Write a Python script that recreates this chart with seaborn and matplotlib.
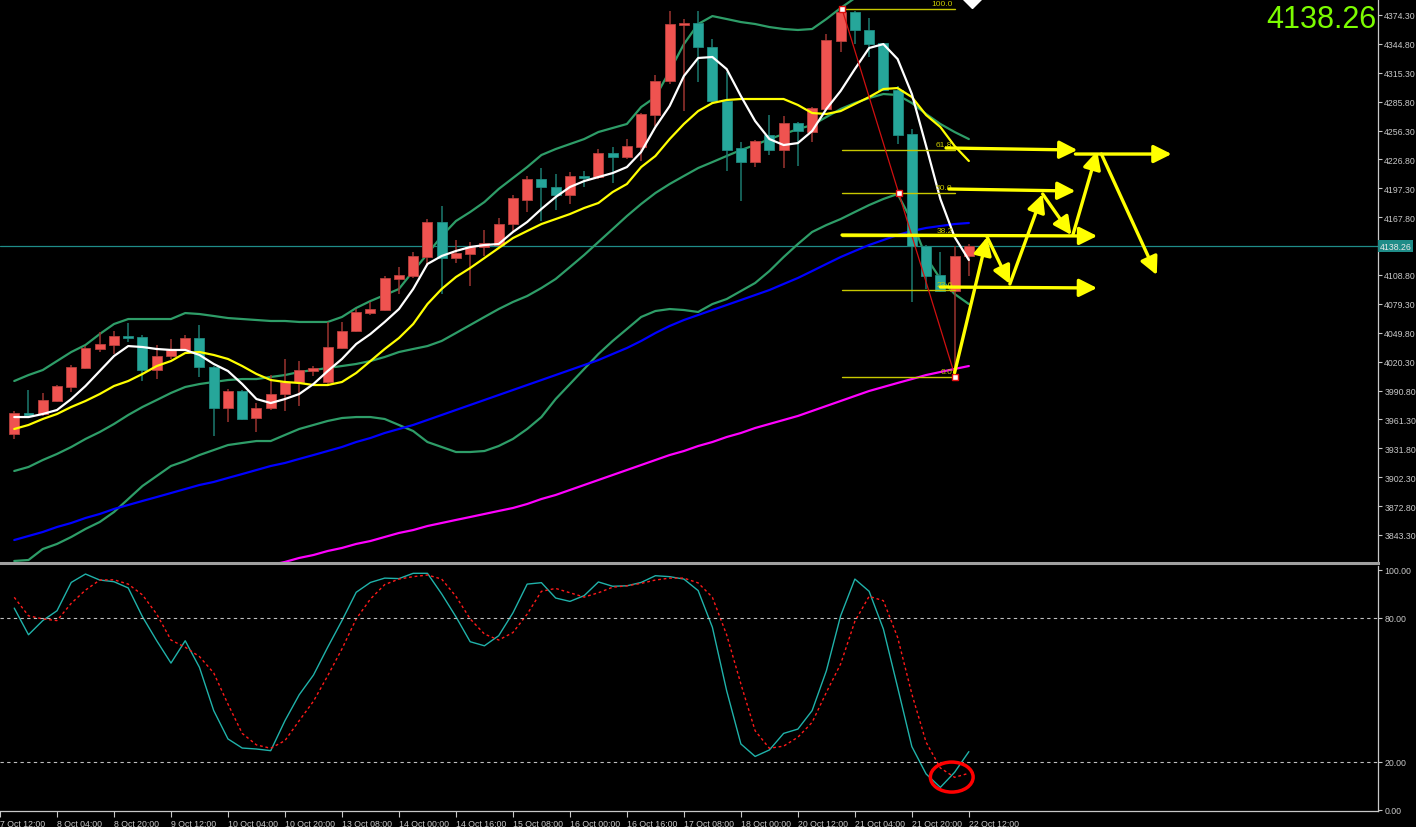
import numpy as np
import matplotlib
matplotlib.use("Agg")
import matplotlib.pyplot as plt
import matplotlib.transforms as mtransforms
from matplotlib.patches import Ellipse
import seaborn as sns

# --- H4 candles (index 0 = 7 Oct 16:00) ---
opens = [3946.4, 3967.9, 3966.8, 3980.1, 3994.4, 4013.8, 4033.2, 4037.3, 4046.5, 4045.5,
         4011.8, 4026.1, 4032.2, 4044.4, 4014.8, 3973.0, 3990.3, 3962.8, 3973.0, 3987.3,
         3999.5, 4010.7, 3999.5, 4034.2, 4051.6, 4070.0, 4073.0, 4104.7, 4107.8, 4127.2,
         4162.9, 4126.2, 4130.2, 4137.4, 4139.4, 4160.9, 4185.4, 4206.8, 4198.6, 4190.5,
         4209.9, 4208.9, 4233.4, 4229.3, 4239.5, 4272.2, 4306.9, 4364.1, 4366.1, 4341.6,
         4286.5, 4238.5, 4224.2, 4251.8, 4236.4, 4264.0, 4254.8, 4278.3, 4347.7, 4377.4,
         4359.0, 4345.7, 4297.7, 4252.8, 4138.4, 4108.8, 4092.4, 4128.2]
highs = [3969.9, 3991.4, 3988.3, 3996.5, 4016.9, 4036.3, 4050.6, 4051.6, 4059.8, 4047.5,
         4037.3, 4043.4, 4047.5, 4057.7, 4016.0, 3992.4, 3991.4, 3978.1, 4006.7, 4023.0,
         4020.9, 4015.9, 4060.8, 4060.8, 4074.1, 4081.2, 4107.8, 4117.0, 4132.3, 4166.0,
         4179.3, 4144.5, 4142.5, 4154.7, 4167.0, 4190.5, 4209.9, 4218.1, 4211.9, 4213.9,
         4215.0, 4237.5, 4239.5, 4247.7, 4274.2, 4313.0, 4378.4, 4370.2, 4378.4, 4349.8,
         4316.1, 4244.6, 4246.6, 4272.2, 4271.2, 4265.0, 4280.3, 4354.9, 4380.4, 4378.4,
         4371.2, 4345.7, 4301.8, 4257.9, 4139.4, 4132.3, 4138.4, 4140.4]
lows = [3941.3, 3963.8, 3964.8, 3979.1, 3989.3, 4012.8, 4030.1, 4028.1, 4040.4, 4000.5,
        4002.6, 4023.0, 4031.2, 4004.6, 3944.4, 3958.7, 3960.7, 3948.5, 3970.9, 3969.9,
        3975.0, 4005.6, 3997.5, 4033.2, 4050.6, 4067.9, 4072.0, 4089.4, 4105.7, 4118.0,
        4089.4, 4121.0, 4097.5, 4128.2, 4138.4, 4153.7, 4173.1, 4163.9, 4175.2, 4181.3,
        4198.6, 4206.8, 4202.7, 4227.2, 4225.2, 4260.9, 4303.8, 4276.3, 4305.9, 4284.4,
        4215.0, 4184.4, 4219.1, 4231.3, 4218.1, 4220.1, 4244.6, 4277.3, 4336.5, 4344.7,
        4331.4, 4296.7, 4242.6, 4081.2, 4094.5, 4091.4, 4004.6, 4107.8]
closes = [3967.9, 3965.8, 3981.1, 3995.4, 4014.8, 4034.2, 4038.3, 4046.5, 4044.4, 4011.8,
          4026.1, 4032.2, 4044.4, 4014.8, 3973.0, 3990.3, 3961.7, 3973.0, 3987.3, 3999.5,
          4011.8, 4013.8, 4035.2, 4051.6, 4071.0, 4074.1, 4105.7, 4108.8, 4128.2, 4162.9,
          4126.2, 4131.3, 4137.4, 4141.4, 4160.9, 4187.4, 4206.8, 4198.6, 4190.5, 4209.9,
          4207.8, 4233.4, 4229.3, 4240.5, 4273.2, 4306.9, 4365.1, 4366.1, 4341.6, 4286.5,
          4236.4, 4224.2, 4245.6, 4236.4, 4264.0, 4255.8, 4279.3, 4348.8, 4377.4, 4359.0,
          4344.7, 4297.7, 4251.8, 4138.4, 4107.8, 4092.4, 4128.2, 4138.26]

# --- indicator lines, one value per candle ---
ma_white = [3963.7, 3963.7, 3966.8, 3970.9, 3982.1, 3995.4, 4010.7, 4026.0, 4036.2, 4035.2,
            4033.2, 4032.2, 4032.2, 4027.1, 4017.9, 4010.7, 3997.4, 3982.1, 3978.0, 3982.1,
            3987.2, 3997.4, 4010.7, 4023.0, 4038.3, 4048.5, 4060.8, 4074.0, 4094.5, 4120.0,
            4128.2, 4133.3, 4137.3, 4139.4, 4140.4, 4152.7, 4162.9, 4176.2, 4188.4, 4198.6,
            4204.7, 4208.8, 4212.9, 4219.0, 4234.4, 4259.9, 4281.3, 4312.0, 4330.4, 4331.4,
            4319.1, 4291.5, 4266.0, 4247.6, 4241.5, 4243.5, 4255.8, 4278.3, 4296.7, 4319.1,
            4340.6, 4344.6, 4329.3, 4293.6, 4240.5, 4186.4, 4147.6, 4124.1]
ma_yellow = [3951.5, 3955.6, 3961.7, 3966.8, 3974.0, 3980.1, 3987.2, 3995.4, 4000.5, 4007.7,
             4015.8, 4020.9, 4029.1, 4030.1, 4027.1, 4023.0, 4015.8, 4007.7, 4001.5, 3999.5,
             3998.5, 3996.4, 3996.4, 3999.5, 4008.7, 4020.9, 4033.2, 4044.4, 4058.7, 4079.1,
             4094.5, 4106.7, 4115.9, 4126.1, 4136.3, 4146.5, 4153.7, 4160.8, 4165.9, 4171.0,
             4177.2, 4182.3, 4193.5, 4201.7, 4219.0, 4230.3, 4247.6, 4263.0, 4276.2, 4284.4,
             4287.5, 4288.5, 4288.5, 4288.5, 4288.5, 4282.4, 4274.2, 4273.2, 4276.2, 4283.4,
             4290.5, 4298.7, 4299.7, 4290.5, 4272.1, 4259.9, 4240.5, 4225.2]
bb_upper = [4000.5, 4006.6, 4011.7, 4020.9, 4030.1, 4037.3, 4048.5, 4058.7, 4063.8, 4063.8,
            4063.8, 4063.8, 4069.9, 4068.9, 4066.9, 4064.8, 4063.8, 4062.8, 4061.8, 4061.8,
            4060.8, 4060.8, 4060.8, 4065.9, 4075.1, 4082.2, 4088.3, 4094.5, 4112.8, 4130.2,
            4148.6, 4163.9, 4173.1, 4183.3, 4196.6, 4207.8, 4219.0, 4231.3, 4237.4, 4242.5,
            4247.6, 4254.8, 4258.9, 4263.0, 4280.3, 4290.5, 4317.1, 4344.6, 4365.1, 4373.2,
            4370.2, 4367.1, 4365.1, 4362.0, 4360.0, 4359.0, 4360.0, 4370.2, 4381.4, 4391.6,
            4399.8]
bb_mid = [3908.6, 3912.7, 3919.8, 3926.0, 3933.1, 3941.3, 3948.4, 3956.6, 3965.8, 3974.0,
          3981.1, 3988.3, 3994.4, 3997.4, 3999.5, 4001.5, 4002.5, 4002.5, 4004.6, 4006.6,
          4009.7, 4011.7, 4013.8, 4015.8, 4017.9, 4020.9, 4025.0, 4030.1, 4033.2, 4036.2,
          4041.4, 4049.5, 4057.7, 4065.9, 4074.0, 4081.2, 4087.3, 4095.5, 4104.7, 4116.9,
          4129.2, 4142.5, 4155.7, 4169.0, 4181.3, 4192.5, 4201.7, 4209.9, 4218.0, 4224.1,
          4230.3, 4236.4, 4241.5, 4247.6, 4252.7, 4257.8, 4261.9, 4270.1, 4278.3, 4284.4,
          4289.5, 4293.6, 4292.6, 4284.4, 4273.2, 4263.0, 4254.8, 4247.6]
bb_lower = [3816.7, 3817.7, 3828.9, 3834.1, 3841.2, 3849.4, 3856.5, 3866.7, 3880.0, 3893.3,
            3903.5, 3913.7, 3918.8, 3924.9, 3930.0, 3935.1, 3937.2, 3939.2, 3939.2, 3945.4,
            3951.5, 3955.6, 3959.7, 3962.7, 3963.7, 3963.7, 3961.7, 3955.6, 3949.4, 3938.2,
            3933.1, 3928.0, 3928.0, 3929.0, 3934.1, 3941.3, 3951.5, 3963.7, 3982.1, 3997.4,
            4012.8, 4028.1, 4041.4, 4053.6, 4065.9, 4072.0, 4074.0, 4073.0, 4071.0, 4079.1,
            4084.2, 4092.4, 4100.6, 4112.8, 4127.1, 4140.4, 4152.7, 4159.8, 4165.9, 4173.1,
            4180.2, 4186.4, 4191.5, 4163.9, 4127.1, 4104.7, 4089.4, 4079.1]
ma_blue = [3838.1, 3842.2, 3846.3, 3851.4, 3855.5, 3860.6, 3864.7, 3869.8, 3873.9, 3878.0,
           3882.0, 3886.1, 3890.2, 3894.3, 3897.4, 3901.5, 3905.5, 3909.6, 3913.7, 3916.8,
           3920.9, 3924.9, 3929.0, 3933.1, 3938.2, 3942.3, 3947.4, 3951.5, 3955.6, 3960.7,
           3965.8, 3970.9, 3976.0, 3981.1, 3986.2, 3991.3, 3996.4, 4001.5, 4006.6, 4011.7,
           4016.8, 4021.9, 4028.1, 4034.2, 4041.4, 4049.5, 4056.7, 4062.8, 4067.9, 4073.0,
           4078.1, 4083.2, 4088.3, 4093.4, 4099.6, 4105.7, 4112.8, 4120.0, 4127.1, 4133.3,
           4139.4, 4144.5, 4149.6, 4153.7, 4156.8, 4158.8, 4160.8, 4161.9]
# magenta MA starts at candle 17 (below the chart before that)
ma_magenta_start = 17
ma_magenta = [3808.5, 3812.6, 3815.7, 3819.8, 3822.8, 3826.9, 3830.0, 3834.1, 3837.1, 3841.2,
              3845.3, 3848.3, 3852.4, 3855.5, 3858.6, 3861.6, 3864.7, 3867.8, 3870.8, 3874.9,
              3880.0, 3884.1, 3889.2, 3894.3, 3899.4, 3904.5, 3909.6, 3914.7, 3919.8, 3924.9,
              3929.0, 3934.1, 3938.2, 3943.3, 3947.4, 3952.5, 3956.6, 3960.7, 3964.8, 3969.9,
              3975.0, 3980.1, 3985.2, 3990.3, 3994.4, 3998.5, 4002.5, 4006.6, 4009.7, 4012.8,
              4015.8]

# --- stochastic ---
stoch_main = [84.0, 72.9, 78.8, 82.9, 94.7, 98.2, 95.7, 95.0, 92.4, 80.4,
              70.4, 61.1, 70.4, 59.3, 41.3, 29.5, 25.7, 25.3, 24.6, 37.1,
              47.9, 56.1, 67.7, 78.8, 90.6, 94.7, 96.5, 96.3, 98.5, 98.5,
              89.9, 80.4, 70.0, 68.3, 72.5, 82.0, 94.0, 94.6, 88.2, 86.8,
              89.2, 94.9, 93.1, 93.3, 94.7, 97.5, 97.1, 96.1, 91.3, 76.0,
              49.6, 27.4, 22.2, 24.9, 31.8, 33.6, 41.3, 57.9, 80.8, 96.1,
              91.0, 75.3, 51.0, 26.3, 14.9, 9.3, 15.6, 24.2]
stoch_signal = [88.5, 80.8, 79.5, 78.8, 86.0, 91.5, 95.7, 95.8, 94.0, 89.5,
                81.5, 70.7, 67.7, 63.8, 57.0, 44.0, 31.8, 27.0, 25.6, 28.8,
                37.1, 45.2, 55.8, 67.0, 79.5, 87.8, 93.8, 96.1, 97.1, 97.8,
                96.1, 88.9, 79.5, 73.2, 70.7, 73.8, 81.5, 91.0, 92.2, 90.4,
                88.6, 90.4, 92.7, 93.3, 94.3, 95.7, 96.5, 96.5, 94.5, 88.5,
                72.9, 52.4, 32.9, 25.6, 26.5, 30.2, 36.4, 48.9, 60.7, 78.5,
                88.9, 87.1, 71.8, 48.2, 28.1, 17.4, 13.5, 15.2]
stoch_levels = [80, 20]
stoch_ticks = [100.00, 80.00, 20.00, 0.00]
circle_center = (65.8, 13.6)
circle_size = (3.0, 12.5)

# --- axes text ---
price_ticks = [4374.30, 4344.80, 4315.30, 4285.80, 4256.30, 4226.80, 4197.30, 4167.80,
               4108.80, 4079.30, 4049.80, 4020.30, 3990.80, 3961.30, 3931.80, 3902.30,
               3872.80, 3843.30]
last_price = 4138.26
time_tick_pos = [-1, 3, 7, 11, 15, 19, 23, 27, 31, 35, 39, 43, 47, 51, 55, 59, 63, 67]
time_tick_labels = ["7 Oct 12:00", "8 Oct 04:00", "8 Oct 20:00", "9 Oct 12:00",
                    "10 Oct 04:00", "10 Oct 20:00", "13 Oct 08:00", "14 Oct 00:00",
                    "14 Oct 16:00", "15 Oct 08:00", "16 Oct 00:00", "16 Oct 16:00",
                    "17 Oct 08:00", "18 Oct 00:00", "20 Oct 12:00", "21 Oct 04:00",
                    "21 Oct 20:00", "22 Oct 12:00"]

# --- Fibonacci retracement (swing high candle 58 -> swing low candle 66) ---
fib_start, fib_end = 58.1, 66.05
fib_high, fib_low = 4380.4, 4004.6
fib_labels = ["0.0", "23.6", "38.2", "50.0", "61.8", "100.0"]
fib_prices = [4004.6, 4093.3, 4148.2, 4192.5, 4236.9, 4380.4]

# --- hand-drawn yellow arrows (start x, start y, end x, end y) ---
arrow_x0 = [66.0, 68.28, 69.88, 72.18, 74.3, 76.3, 65.4, 65.6, 58.1, 65.0, 74.48]
arrow_y0 = [4009.0, 4147.6, 4099.6, 4191.5, 4149.6, 4232.3, 4238.5, 4196.6, 4149.6, 4096.5, 4232.3]
arrow_x1 = [68.28, 69.88, 72.18, 74.2, 76.01, 80.19, 74.62, 74.48, 76.01, 76.0, 81.23]
arrow_y1 = [4147.6, 4099.6, 4191.5, 4149.6, 4235.4, 4108.7, 4236.4, 4194.5, 4148.6, 4095.5, 4232.3]

sns.set_theme(style="dark", rc={"axes.facecolor": "black", "figure.facecolor": "black"})
plt.rcParams["font.family"] = ["Liberation Sans", "DejaVu Sans"]

UP, DOWN = "#ef5350", "#26a69a"
UP_WICK, DOWN_WICK = "#9a3330", "#1c7a70"
AXIS_TXT = "#c8c8c8"

fig = plt.figure(figsize=(14.16, 8.28), dpi=100, facecolor="black")
ax = fig.add_axes([0, 0.3188, 0.9732, 0.6812])
ax2 = fig.add_axes([0, 0.0193, 0.9732, 0.2959], sharex=ax)

idx = np.arange(len(opens))
o, h, l, c = map(np.array, (opens, highs, lows, closes))
up = c >= o

# Bollinger bands, MAs
line_idx = idx
sns.lineplot(x=line_idx[:len(bb_upper)], y=bb_upper, ax=ax, color="#2e9d68", linewidth=1.6)
sns.lineplot(x=line_idx, y=bb_mid, ax=ax, color="#2e9d68", linewidth=1.6)
sns.lineplot(x=line_idx, y=bb_lower, ax=ax, color="#2e9d68", linewidth=1.6)
sns.lineplot(x=line_idx, y=ma_blue, ax=ax, color="#0000ff", linewidth=1.6)
sns.lineplot(x=np.arange(ma_magenta_start, ma_magenta_start + len(ma_magenta)), y=ma_magenta,
             ax=ax, color="#ff00ff", linewidth=1.6)

# current price line
ax.axhline(last_price, color="#1f8c88", lw=0.9, zorder=1)

# candles
ax.vlines(idx, l, h, colors=np.where(up, UP_WICK, DOWN_WICK), lw=1.1, zorder=3)
body_lo = np.minimum(o, c)
body_h = np.maximum(np.abs(c - o), 1.2)
ax.bar(idx, body_h, bottom=body_lo, width=0.7, color=np.where(up, UP, DOWN),
       edgecolor=np.where(up, "#b8403d", "#1e8a80"), linewidth=0.6, zorder=4)

sns.lineplot(x=line_idx, y=ma_yellow, ax=ax, color="#ffff00", linewidth=1.6, zorder=5)
sns.lineplot(x=line_idx, y=ma_white, ax=ax, color="#ffffff", linewidth=1.6, zorder=5)

# fibonacci
for lab, p in zip(fib_labels, fib_prices):
    ax.plot([fib_start, fib_end], [p, p], color="#c8c800", lw=1, zorder=6)
    ax.text(fib_end - 0.2, p + 2, lab, color="#c8c800", fontsize=6, ha="right", va="bottom", zorder=6)
ax.plot([fib_start, fib_end], [fib_high, fib_low], color="#d01010", lw=0.9, zorder=6)
ax.plot([fib_start, (fib_start + fib_end) / 2, fib_end],
        [fib_high, (fib_high + fib_low) / 2, fib_low], ls="none", marker="s", ms=4,
        mfc="white", mec="#e01010", mew=1, zorder=7)

# arrows
for x0, y0, x1, y1 in zip(arrow_x0, arrow_y0, arrow_x1, arrow_y1):
    ax.annotate("", xy=(x1, y1), xytext=(x0, y0), zorder=8,
                arrowprops=dict(arrowstyle="-|>,head_length=0.9,head_width=0.45",
                                color="#ffff00", lw=2.4, mutation_scale=12,
                                shrinkA=0, shrinkB=0))

# chart shift marker
ax.plot([67.2], [4390.6], marker="D", ms=9, color="white", zorder=9)

ax.set_xlim(-0.244, 95.72)
ax.set_ylim(3814.6, 4390.64)
ax.yaxis.tick_right()
ax.set_yticks(price_ticks)
ax.set_yticklabels([f"{v:.2f}" for v in price_ticks])
ax.tick_params(axis="y", direction="out", length=3, width=0.8, color=AXIS_TXT,
               labelsize=6.3, labelcolor=AXIS_TXT, pad=1.5)
ax.tick_params(axis="x", bottom=False, labelbottom=False)
for s in ("top", "left"):
    ax.spines[s].set_visible(False)
ax.spines["right"].set_color(AXIS_TXT)
ax.spines["right"].set_linewidth(0.9)
ax.spines["bottom"].set_color("#a0a0a0")
ax.spines["bottom"].set_linewidth(2.2)
ax.set_xlabel("")
ax.set_ylabel("")

trans = mtransforms.blended_transform_factory(ax.transAxes, ax.transData)
ax.text(1.001, last_price, f"{last_price:.2f}", transform=trans, fontsize=6.3, color="#e8e8e8",
        ha="left", va="center", zorder=10,
        bbox=dict(boxstyle="square,pad=0.15", facecolor="#1f8c88", edgecolor="none"))

fig.text(0.9718, 1 - 5 / 828, f"{last_price:.2f}", color="#7cfc00", fontsize=22,
         family="Liberation Sans", ha="right", va="top")

# stochastic panel
sns.lineplot(x=idx, y=stoch_main, ax=ax2, color="#20b2aa", linewidth=1.0)
sns.lineplot(x=idx, y=stoch_signal, ax=ax2, color="#ff1a1a", linewidth=1.0, linestyle=(0, (2, 2)))
for lv in stoch_levels:
    ax2.axhline(lv, color="#bfbfbf", lw=0.8, ls=(0, (3, 3)))
ax2.add_patch(Ellipse(circle_center, circle_size[0], circle_size[1], fill=False,
                      edgecolor="#ff0000", lw=2.5, zorder=6))
ax2.set_ylim(-0.54, 101.54)
ax2.yaxis.tick_right()
ax2.set_yticks(stoch_ticks)
ax2.set_yticklabels([f"{v:.2f}" for v in stoch_ticks])
ax2.tick_params(axis="y", direction="out", length=3, width=0.8, color=AXIS_TXT,
                labelsize=6.3, labelcolor=AXIS_TXT, pad=1.5)
ax2.set_xticks(time_tick_pos)
ax2.set_xticklabels(time_tick_labels, ha="left")
ax2.tick_params(axis="x", direction="out", length=4, width=0.8, color=AXIS_TXT,
                labelsize=6.3, labelcolor=AXIS_TXT, pad=2, bottom=True, labelbottom=True)
ax2.spines["left"].set_visible(False)
ax2.spines["top"].set_visible(False)
for s in ("right", "bottom"):
    ax2.spines[s].set_color(AXIS_TXT)
    ax2.spines[s].set_linewidth(0.9)
ax2.set_xlabel("")
ax2.set_ylabel("")

fig.savefig("out.png", dpi=100, facecolor="black")
